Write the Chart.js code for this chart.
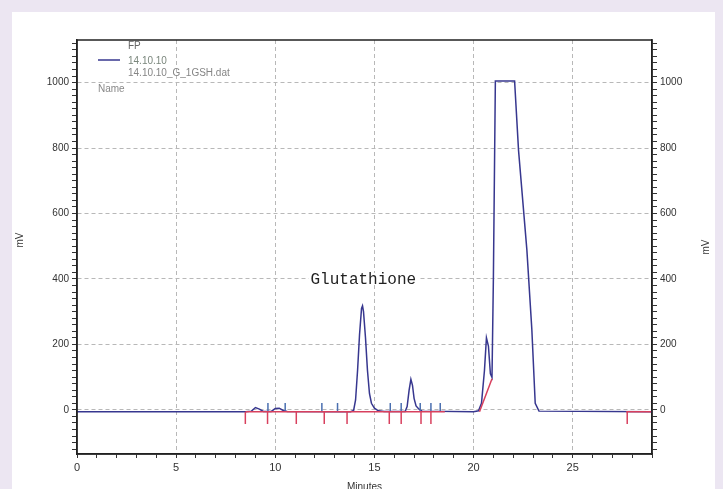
<!DOCTYPE html>
<html>
<head>
<meta charset="utf-8">
<script src="https://cdn.jsdelivr.net/npm/chart.js@4.4.1/dist/chart.umd.min.js"></script>
<style>
    html, body { margin: 0; padding: 0; background: #ece6f2; }
    #panel { position: absolute; left: 12px; top: 12px; width: 703px; height: 477px; background: #fff; }
    #wrap { position: absolute; left: 0; top: 0; width: 723px; height: 489px; }
</style>
</head>
<body>
<div id="panel"></div>
<div id="wrap"><canvas id="chart" width="723" height="489"></canvas></div>
<script>
// Detector trace (minutes, mV)
const times  = [0, 8.5, 8.8, 9.0, 9.2, 9.4, 9.8, 10.0, 10.2, 10.4, 10.6, 13.8, 13.95, 14.05, 14.15, 14.25, 14.35, 14.4, 14.45, 14.55, 14.65, 14.75, 14.85, 15.0, 15.2, 15.5, 16.55, 16.65, 16.75, 16.84, 16.92, 17.0, 17.1, 17.25, 17.4, 20.0, 20.25, 20.4, 20.55, 20.65, 20.75, 20.85, 20.93, 21.0, 21.1, 22.07, 22.27, 22.69, 22.94, 23.11, 23.3, 29];
const signal = [-6, -6, -4, 7, 2, -5, -5, 4, 5, -2, -5, -6, -2, 30, 120, 230, 310, 318, 300, 220, 120, 50, 20, 5, -3, -5, -5, 10, 60, 93, 75, 35, 12, 2, -4, -6, -3, 20, 120, 220, 195, 110, 99, 400, 1005, 1005, 792, 488, 245, 20, -4, -6];

// Integration baseline segments (null = gap)
const baseTimes  = [8.5, 18.55, 18.6, 20.3, 20.93, 20.95, 27.7, 28.95];
const baseValues = [-6, -6, null, -6, 95, null, -6, -6];

// Peak start/end markers
const redMarks  = [8.49, 9.61, 11.06, 12.47, 13.62, 15.75, 16.35, 17.35, 17.85, 27.75];
const blueMarks = [9.63, 10.5, 12.35, 13.14, 15.8, 16.35, 17.31, 17.85, 18.32];

const legendLines = ['FP', '14.10.10', '14.10.10_G_1GSH.dat'];
const peakLabel = 'Glutathione';

const traceColor = '#37378f';
const redColor = '#d8405e';

function pts(xs, ys) {
    return xs.map((x, i) => ({ x: x, y: ys[i] }));
}

const textPlugin = {
    id: 'texts',
    afterDraw(chart) {
        const ctx = chart.ctx;
        const a = chart.chartArea;
        const xs = chart.scales.x, ys = chart.scales.y;
        ctx.save();
        // frame
        ctx.strokeStyle = '#222';
        ctx.lineWidth = 1.5;
        ctx.strokeRect(a.left, a.top, a.right - a.left, a.bottom - a.top);

        // legend
        ctx.strokeStyle = traceColor;
        ctx.beginPath();
        ctx.moveTo(98, 60);
        ctx.lineTo(120, 60);
        ctx.stroke();
        ctx.font = '10px "Liberation Sans", Arial, sans-serif';
        ctx.textBaseline = 'middle';
        ctx.textAlign = 'left';
        ctx.fillStyle = '#666';
        ctx.fillText(legendLines[0], 128, 46);
        ctx.fillStyle = '#7a867c';
        ctx.fillText(legendLines[1], 128, 61);
        ctx.fillStyle = '#858585';
        ctx.fillText(legendLines[2], 128, 73);
        ctx.fillStyle = '#888';
        ctx.fillText('Name', 98, 89);

        // peak annotation
        ctx.font = '16px "Liberation Mono", "DejaVu Sans Mono", monospace';
        ctx.textAlign = 'center';
        const px = xs.getPixelForValue(14.44), py = ys.getPixelForValue(400);
        const w = ctx.measureText(peakLabel).width;
        ctx.fillStyle = '#fff';
        ctx.fillRect(px - w / 2 - 2, py - 6, w + 4, 12);
        ctx.fillStyle = '#222';
        ctx.fillText(peakLabel, px, py + 1);

        // axis titles
        ctx.font = '10px "Liberation Sans", Arial, sans-serif';
        ctx.fillStyle = '#333';
        [[20, 240], [706, 247]].forEach(p => {
            ctx.save();
            ctx.translate(p[0], p[1]);
            ctx.rotate(-Math.PI / 2);
            ctx.fillText('mV', 0, 0);
            ctx.restore();
        });
        ctx.textBaseline = 'top';
        ctx.fillText('Minutes', (a.left + a.right) / 2, 482);
        ctx.restore();
    }
};

const yTicks = {
    stepSize: 20,
    includeBounds: false,
    autoSkip: false,
    padding: 3,
    color: '#333',
    font: { family: '"Liberation Sans", Arial, sans-serif', size: 10 },
    callback: v => (v % 200 === 0 ? v : '')
};

new Chart(document.getElementById('chart').getContext('2d'), {
    type: 'scatter',
    data: {
        datasets: [
            {
                data: pts(baseTimes, baseValues),
                showLine: true,
                borderColor: redColor,
                borderWidth: 1.5,
                pointRadius: 0,
                spanGaps: false
            },
            {
                data: redMarks.map(x => ({ x: x, y: -25 })),
                pointStyle: 'line',
                rotation: 90,
                pointRadius: 6,
                borderColor: redColor,
                borderWidth: 1.5
            },
            {
                data: blueMarks.map(x => ({ x: x, y: 7 })),
                pointStyle: 'line',
                rotation: 90,
                pointRadius: 4.5,
                borderColor: '#4a6fb0',
                borderWidth: 1.5
            },
            {
                data: pts(times, signal),
                showLine: true,
                borderColor: traceColor,
                borderWidth: 1.5,
                pointRadius: 0,
                tension: 0
            }
        ]
    },
    options: {
        responsive: false,
        animation: false,
        layout: { padding: { top: 40, left: 0, right: 0, bottom: 0 } },
        plugins: {
            legend: { display: false },
            tooltip: { enabled: false }
        },
        scales: {
            x: {
                type: 'linear',
                position: 'bottom',
                min: 0,
                max: 29,
                afterFit: s => { s.height = 35; },
                ticks: {
                    stepSize: 1,
                    autoSkip: false,
                    maxRotation: 0,
                    padding: 3,
                    color: '#333',
                    font: { family: '"Liberation Sans", Arial, sans-serif', size: 11 },
                    callback: v => (v % 5 === 0 ? v : '')
                },
                grid: {
                    color: c => (c.tick && c.tick.value % 5 === 0 && c.tick.value > 0 && c.tick.value < 29 ? '#b8b8b8' : 'rgba(0,0,0,0)'),
                    tickColor: '#333',
                    tickLength: 4
                },
                border: { color: '#222', width: 1.5, dash: [4, 3] }
            },
            y: {
                position: 'left',
                min: -135,
                max: 1130,
                afterFit: s => { s.width = 77; },
                ticks: yTicks,
                grid: {
                    color: c => (c.tick && c.tick.value % 200 === 0 ? '#b8b8b8' : 'rgba(0,0,0,0)'),
                    tickColor: '#333',
                    tickLength: 5
                },
                border: { color: '#222', width: 1.5, dash: [4, 3] }
            },
            y2: {
                position: 'right',
                min: -135,
                max: 1130,
                afterFit: s => { s.width = 71; },
                ticks: yTicks,
                grid: {
                    drawOnChartArea: false,
                    tickColor: '#333',
                    tickLength: 5
                },
                border: { color: '#222', width: 1.5 }
            }
        }
    },
    plugins: [textPlugin]
});
</script>
</body>
</html>
